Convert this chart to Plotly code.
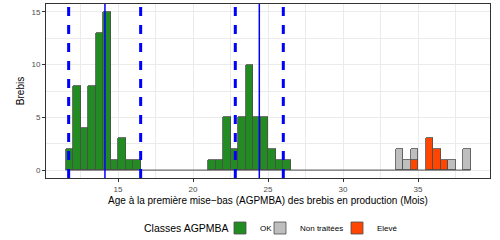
import plotly.graph_objects as go

# Histogram bins (centres, width 0.5 months) and counts per class
ok_x = [11.75, 12.25, 12.75, 13.25, 13.75, 14.25, 14.75, 15.25, 15.75, 16.25,
        21.25, 21.75, 22.25, 22.75, 23.25, 23.75, 24.25, 24.75, 25.25, 25.75, 26.25]
ok_n = [2, 8, 4, 8, 13, 15, 1, 3, 1, 1,
        1, 1, 5, 2, 5, 10, 5, 5, 2, 1, 1]
nt_x = [33.75, 34.25, 34.75, 37.25, 38.25]
nt_n = [2, 1, 1, 1, 2]
el_x = [34.75, 35.75, 36.25, 36.75]
el_n = [1, 3, 2, 1]
bin_w = 0.5

# Group means and limits
means = [14.13, 24.42]
lows = [11.71, 22.82]
highs = [16.51, 26.02]

x_ticks = [15, 20, 25, 30, 35]
y_ticks = [0, 5, 10, 15]

OUT = "#4D4D4D"
fig = go.Figure()

all_x = ok_x + nt_x + el_x
fig.add_trace(go.Scatter(x=[min(all_x) - bin_w / 2, max(all_x) + bin_w / 2], y=[0, 0],
                         mode="lines", line=dict(color=OUT, width=1),
                         showlegend=False, hoverinfo="skip"))

fig.add_trace(go.Bar(x=el_x, y=el_n, width=bin_w, name="Elevé", legend="legend3",
                     marker=dict(color="#FF4500", line=dict(color=OUT, width=0.8))))
fig.add_trace(go.Bar(x=nt_x, y=nt_n, width=bin_w, name="Non traitées", legend="legend2",
                     marker=dict(color="#BEBEBE", line=dict(color=OUT, width=0.8))))
fig.add_trace(go.Bar(x=ok_x, y=ok_n, width=bin_w, name="OK", legend="legend",
                     marker=dict(color="#228B22", line=dict(color=OUT, width=0.8))))

for m in means:
    fig.add_vline(x=m, line=dict(color="#0000FF", width=1.5))
for v in lows + highs:
    fig.add_vline(x=v, line=dict(color="#0000FF", width=3, dash="dash"))

grid = "#EBEBEB"


def leg(xpx):
    return dict(orientation="h", xref="container", yref="container",
                x=xpx / 500, xanchor="left", y=0.05, yanchor="middle",
                font=dict(size=8), itemwidth=30, bgcolor="rgba(0,0,0,0)")


fig.update_layout(
    width=500, height=240,
    margin=dict(l=46, r=10, t=4, b=62),
    paper_bgcolor="white", plot_bgcolor="white",
    barmode="stack", bargap=0,
    font=dict(family="Liberation Sans, Arial, sans-serif", color="black"),
    xaxis=dict(range=[10.2, 39.8], tickvals=x_ticks, ticks="outside", ticklen=3,
               tickcolor="#333333", tickfont=dict(size=8, color=OUT),
               showgrid=True, gridcolor=grid, gridwidth=1,
               minor=dict(dtick=2.5, tick0=12.5, showgrid=True, gridcolor=grid, gridwidth=0.5),
               showline=True, linecolor="#333333", mirror=True, zeroline=False,
               title=dict(text="Age à la première mise−bas (AGPMBA) des brebis en production (Mois)",
                          font=dict(size=10), standoff=4)),
    yaxis=dict(range=[-0.75, 15.75], tickvals=y_ticks, ticks="outside", ticklen=3,
               tickcolor="#333333", tickfont=dict(size=8, color=OUT),
               showgrid=True, gridcolor=grid, gridwidth=1,
               minor=dict(dtick=2.5, tick0=2.5, showgrid=True, gridcolor=grid, gridwidth=0.5),
               showline=True, linecolor="#333333", mirror=True, zeroline=False,
               title=dict(text="Brebis", font=dict(size=10), standoff=4)),
    legend=leg(220), legend2=leg(260), legend3=leg(337),
    annotations=[dict(text="Classes AGPMBA", xref="paper", yref="paper",
                      x=(141.7 - 46) / 444, y=-0.287, xanchor="left", yanchor="middle",
                      showarrow=False, font=dict(size=10.5, color="black"))],
)

fig.write_html("out.html")
